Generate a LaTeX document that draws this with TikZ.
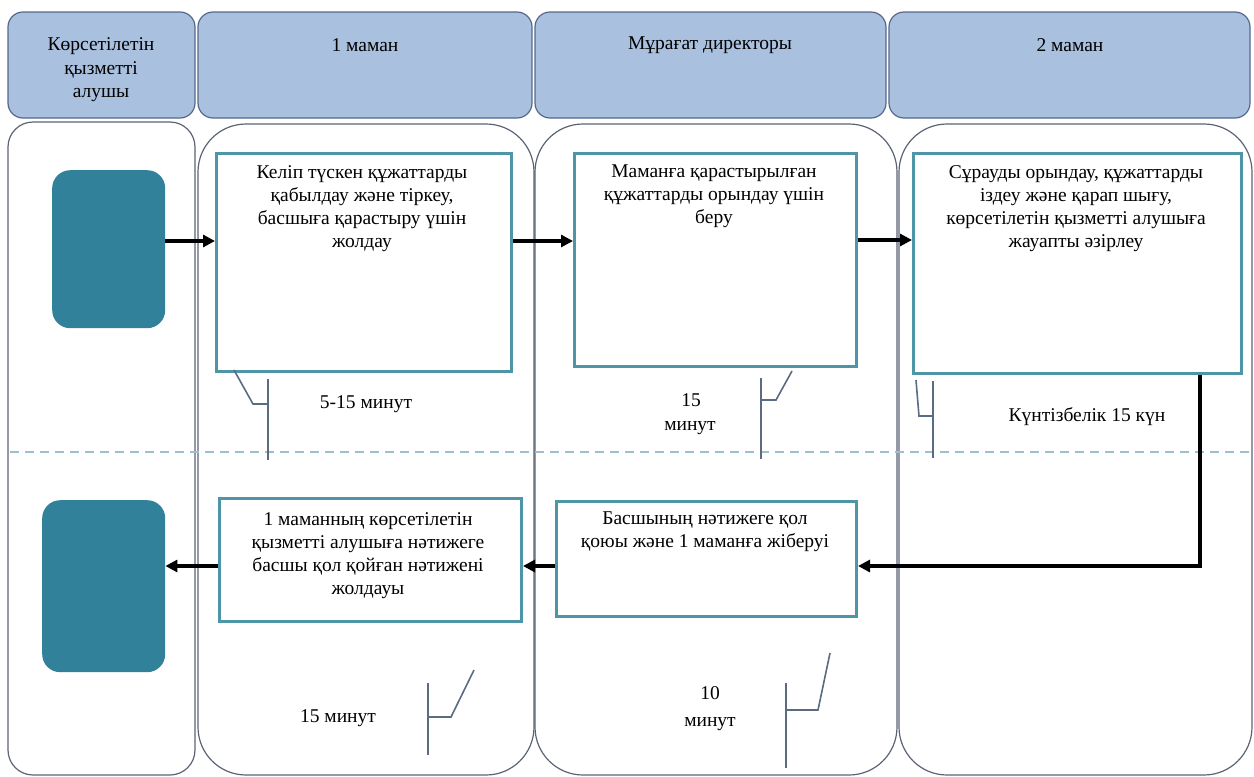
\documentclass[tikz,border=0pt]{standalone}
\usepackage{fontspec}
\setmainfont{Liberation Serif}
\usetikzlibrary{arrows.meta}
\definecolor{hdrfill}{HTML}{A9C1DF}
\definecolor{hdrdraw}{HTML}{56688A}
\definecolor{lanedraw}{HTML}{5B6374}
\definecolor{termfill}{HTML}{31819A}
\definecolor{procdraw}{HTML}{4E95A8}
\definecolor{dashcol}{HTML}{9FBFCB}
\definecolor{calcol}{HTML}{5A6B82}
\tikzset{
  hdr/.style={draw=hdrdraw, fill=hdrfill, line width=1.2pt, rounded corners=15pt},
  lane/.style={draw=lanedraw, line width=1.2pt},
  proc/.style={draw=procdraw, fill=white, line width=3pt, rectangle, inner sep=0pt, anchor=north west},
  term/.style={fill=termfill, rounded corners=18pt, rectangle, inner sep=0pt, anchor=north west},
  txt/.style={align=center, font=\fontsize{19.5}{23}\selectfont, inner sep=0pt},
  arr/.style={line width=3.2pt, -{Triangle[length=12pt,width=12pt]}},
  calline/.style={draw=calcol, line width=1.6pt},
}
\begin{document}
\begin{tikzpicture}[x=1pt,y=-1pt]
\path[use as bounding box] (0,0) rectangle (1254,777);
% headers
\draw[hdr] (8,12) rectangle (195,118);
\draw[hdr] (198,12) rectangle (532,118);
\draw[hdr] (535,12) rectangle (886,118);
\draw[hdr] (889,12) rectangle (1250,118);
\node[txt, font=\fontsize{19.5}{23.5}\selectfont] (h1) at (101,70) {Көрсетілетін\\қызметті\\алушы};
\node[txt] (h2) at (365,45) {1 маман};
\node[txt] (h3) at (710,45) {Мұрағат директоры};
\node[txt] (h4) at (1070,45) {2 маман};
% lanes
\draw[lane, rounded corners=25pt] (8,122) rectangle (195,775);
\draw[lane, rounded corners=48pt] (198,124) rectangle (534,775);
\draw[lane, rounded corners=48pt] (535,124) rectangle (897,775);
\draw[lane, rounded corners=48pt] (899,124) rectangle (1252,775);
% dashed separator
\draw[dashcol, line width=2pt, dash pattern=on 9pt off 6pt] (10,452) -- (1250,452);
% terminals
\node[term, minimum width=113pt, minimum height=158pt] (t1) at (52,170) {};
\node[term, minimum width=123pt, minimum height=172pt] (t2) at (42,500) {};
% process boxes
\node[proc, minimum width=295pt, minimum height=218pt] (b1) at (215,152) {};
\node[proc, minimum width=282pt, minimum height=213pt] (b2) at (573,152) {};
\node[proc, minimum width=328pt, minimum height=220pt] (b3) at (912,152) {};
\node[proc, minimum width=302pt, minimum height=123pt] (b4) at (218,497) {};
\node[proc, minimum width=300pt, minimum height=115pt] (b5) at (555,500) {};
\node[txt, anchor=north] at (362,165) {Келіп түскен құжаттарды\\қабылдау және тіркеу,\\басшыға қарастыру үшін\\жолдау};
\node[txt, anchor=north] at (714,165) {Маманға қарастырылған\\құжаттарды орындау үшін\\беру};
\node[txt, anchor=north] at (1076,165) {Сұрауды орындау, құжаттарды\\іздеу және қарап шығу,\\көрсетілетін қызметті алушыға\\жауапты әзірлеу};
\node[txt, anchor=north] at (368,512) {1 маманның көрсетілетін\\қызметті алушыға нәтижеге\\басшы қол қойған нәтижені\\жолдауы};
\node[txt, anchor=north] at (705,512) {Басшының нәтижеге қол\\қоюы және 1 маманға жіберуі};
% arrows
\draw[arr] (t1.east |- 0,241) -- (b1.west |- 0,241);
\draw[arr] (b1.east |- 0,241) -- (b2.west |- 0,241);
\draw[arr] (b2.east |- 0,240) -- (b3.west |- 0,240);
\draw[arr] (b3.south -| 1200,0) |- (b5.east |- 0,566);
\draw[arr] (b5.west |- 0,566) -- (b4.east |- 0,566);
\draw[arr] (b4.west |- 0,566) -- (t2.east |- 0,566);
% callouts
\draw[calline] (234,370) -- (253,404) -- (268,404);
\draw[calline] (268,379) -- (268,460);
\node[txt] (c1) at (366,404) {5-15 минут};
\draw[calline] (761,378) -- (761,459);
\draw[calline] (761,400) -- (776,400) -- (792,371);
\node[txt] (c2a) at (691,400) {15};
\node[txt] (c2b) at (690,428) {минут};
\draw[calline] (916,380) -- (919,416) -- (933,416);
\draw[calline] (933,381) -- (933,458);
\node[txt] (c3) at (1087,417) {Күнтізбелік 15 күн};
\draw[calline] (428,683) -- (428,755);
\draw[calline] (428,717) -- (451,717) -- (474,670);
\node[txt] (c4) at (338,718) {15 минут};
\draw[calline] (786,683) -- (786,768);
\draw[calline] (786,710) -- (818,710) -- (830,653);
\node[txt] (c5a) at (710,693) {10};
\node[txt] (c5b) at (710,724) {минут};
\end{tikzpicture}
\end{document}
